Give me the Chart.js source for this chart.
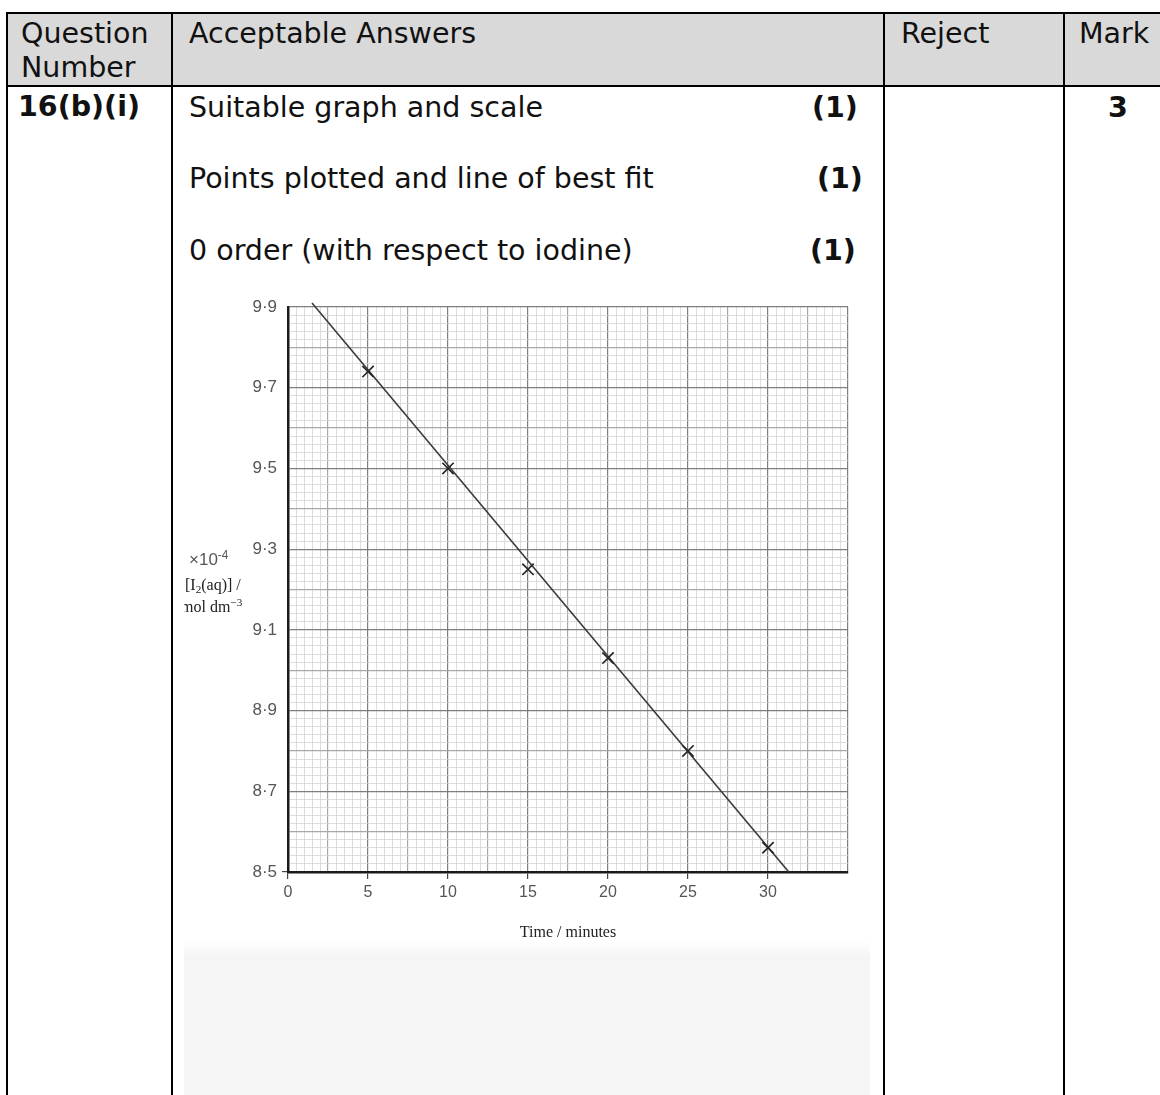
<!DOCTYPE html>
<html>
<head>
<meta charset="utf-8">
<script src="https://cdn.jsdelivr.net/npm/chart.js@4.4.1/dist/chart.umd.min.js"></script>
<style>
body{margin:0;background:#fff;width:1160px;height:1095px;overflow:hidden;position:relative;font-family:"DejaVu Sans",Verdana,sans-serif;font-size:28.5px;color:#111;}
.ln{position:absolute;background:#000;}
.t{position:absolute;white-space:nowrap;line-height:34px;}
.b{font-weight:bold;}
#head{position:absolute;left:8px;top:14px;width:1152px;height:71px;background:#d9d9d9;}
#scan{position:absolute;left:184px;top:296px;width:686px;height:799px;overflow:hidden;background:linear-gradient(#fff 0,#fff 645px,#f5f5f5 660px,#f5f5f5 100%);}
#scan canvas{position:absolute;left:0;top:0;}
.yt{position:absolute;white-space:nowrap;color:#333;}
.hand{font-family:"Liberation Sans",sans-serif;font-size:17px;color:#555;}
.serif{font-family:"Liberation Serif",serif;font-size:16px;color:#222;}
sup{font-size:70%;vertical-align:6px;}
sub{font-size:70%;vertical-align:-3px;}
</style>
</head>
<body>
<div id="head"></div>
<div class="ln" style="left:6px;top:12px;width:1154px;height:2px"></div>
<div class="ln" style="left:6px;top:85px;width:1154px;height:2px"></div>
<div class="ln" style="left:6px;top:12px;width:2px;height:1083px"></div>
<div class="ln" style="left:171px;top:12px;width:2px;height:1083px"></div>
<div class="ln" style="left:883px;top:12px;width:2px;height:1083px"></div>
<div class="ln" style="left:1063px;top:12px;width:2px;height:1083px"></div>

<div class="t" style="left:21px;top:17px">Question</div>
<div class="t" style="left:21px;top:51px">Number</div>
<div class="t" style="left:189px;top:17px">Acceptable Answers</div>
<div class="t" style="left:901px;top:17px">Reject</div>
<div class="t" style="left:1079px;top:17px">Mark</div>

<div class="t b" style="left:18px;top:90px">16(b)(i)</div>
<div class="t" style="left:189px;top:91px">Suitable graph and scale</div>
<div class="t b" style="left:812px;top:91px">(1)</div>
<div class="t" style="left:189px;top:162px">Points plotted and line of best fit</div>
<div class="t b" style="left:817px;top:162px">(1)</div>
<div class="t" style="left:189px;top:234px">0 order (with respect to iodine)</div>
<div class="t b" style="left:810px;top:234px">(1)</div>
<div class="t b" style="left:1108px;top:91px">3</div>

<div id="scan">
  <canvas id="graph" width="686" height="799"></canvas>
  <div class="yt hand" style="left:5px;top:252px">×10<sup>-4</sup></div>
  <div class="yt serif" style="left:1px;top:280px">[I<sub>2</sub>(aq)] /</div>
  <div class="yt serif" style="left:-3px;top:300px">mol dm<sup>−3</sup></div>
</div>

<script>
// readings
const times = [5, 10, 15, 20, 25, 30];
const iodine = [9.74, 9.50, 9.25, 9.03, 8.80, 8.56];

// ends of the line of best fit
const fitTimes = [1.5, 31.3];
const fitIodine = [9.91, 8.50];

// labelled ticks
const xLabels = [0, 5, 10, 15, 20, 25, 30];
const yLabels = [8.5, 8.7, 8.9, 9.1, 9.3, 9.5, 9.7, 9.9];

function near(v, list) {
    return list.some(t => Math.abs(t - v) < 1e-6);
}
function onStep(v, base, step) {
    const k = (v - base) / step;
    return Math.abs(k - Math.round(k)) < 1e-6;
}

const ctx = document.getElementById("graph").getContext("2d");

new Chart(ctx, {
    type: "scatter",
    data: {
        datasets: [
            {
                label: "Line of best fit",
                data: fitTimes.map((t, i) => ({ x: t, y: fitIodine[i] })),
                showLine: true,
                borderColor: "#3a3a3a",
                borderWidth: 1.6,
                pointRadius: 0,
                clip: false,
                order: 1
            },
            {
                label: "[I2(aq)]",
                data: times.map((t, i) => ({ x: t, y: iodine[i] })),
                pointStyle: "crossRot",
                pointRadius: 8,
                borderColor: "#262626",
                borderWidth: 1.7,
                order: 0
            }
        ]
    },
    options: {
        responsive: false,
        animation: false,
        devicePixelRatio: 1,
        layout: { padding: { left: 54, right: 22, top: 11, bottom: 153 } },
        plugins: { legend: { display: false }, tooltip: { enabled: false } },
        scales: {
            x: {
                type: "linear",
                min: 0,
                max: 35,
                afterFit: scale => {
                    scale.height = 70;
                    scale.paddingLeft = 0;
                    scale.paddingRight = 0;
                },
                ticks: {
                    stepSize: 0.5,
                    autoSkip: false,
                    maxRotation: 0,
                    minRotation: 0,
                    padding: 4,
                    color: "#555",
                    font: { family: "Liberation Sans", size: 16 },
                    callback: v => near(v, xLabels) ? String(v) : ""
                },
                grid: {
                    color: c => onStep(c.tick.value, 0, 5) ? "#7e7e7e" : onStep(c.tick.value, 0, 2.5) ? "#a8a8a8" : "#d4d4d4",
                    lineWidth: c => onStep(c.tick.value, 0, 2.5) ? 1.2 : 0.8,
                    tickLength: 7,
                    tickColor: c => near(c.tick.value, xLabels) ? "#444" : "rgba(0,0,0,0)"
                },
                border: { color: "#1a1a1a", width: 2.5 },
                title: {
                    display: true,
                    text: "Time / minutes",
                    color: "#222",
                    font: { family: "Liberation Serif", size: 16 },
                    padding: { top: 15, bottom: 0 }
                }
            },
            y: {
                type: "linear",
                min: 8.5,
                max: 9.9,
                afterFit: scale => {
                    scale.width = 50;
                    scale.paddingTop = 0;
                    scale.paddingBottom = 0;
                },
                ticks: {
                    stepSize: 0.02,
                    autoSkip: false,
                    padding: 5,
                    color: "#555",
                    font: { family: "Liberation Sans", size: 17 },
                    callback: v => near(v, yLabels) ? v.toFixed(1).replace(".", "·") : ""
                },
                grid: {
                    color: c => onStep(c.tick.value, 8.5, 0.2) ? "#7e7e7e" : onStep(c.tick.value, 8.5, 0.1) ? "#a8a8a8" : "#d4d4d4",
                    lineWidth: c => onStep(c.tick.value, 8.5, 0.1) ? 1.2 : 0.8,
                    tickLength: 6,
                    tickColor: c => Math.abs(c.tick.value - 8.5) < 1e-6 ? "#444" : "rgba(0,0,0,0)"
                },
                border: { color: "#1a1a1a", width: 2.5 }
            }
        }
    }
});
</script>
</body>
</html>
